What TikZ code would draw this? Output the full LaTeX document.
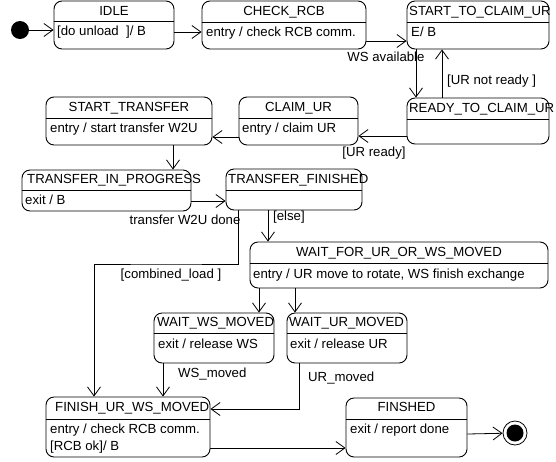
\documentclass[tikz,border=0pt]{standalone}
\usepackage{fontspec}
\setmainfont{Liberation Sans}
\usetikzlibrary{arrows.meta,calc}

\begin{document}
\begin{tikzpicture}[
    x=1pt, y=-1pt,
    state/.style={rectangle, draw, rounded corners=8pt, line width=0.9pt, inner sep=0pt},
    divider/.style={line width=0.9pt},
    title/.style={font=\fontsize{13.2}{15}\selectfont, inner sep=0pt, text height=9.5pt, text depth=2.5pt},
    body/.style={font=\fontsize{13.2}{17}\selectfont, inner sep=0pt, anchor=west, align=left, text height=9.5pt, text depth=2.5pt},
    arrow/.style={-{Straight Barb[length=9pt,width=13pt]}, line width=0.8pt},
    msg/.style={font=\fontsize{13.2}{15}\selectfont, inner sep=1pt}
]
\useasboundingbox (0,0) rectangle (556,461);

% Pseudo states
\node[circle, fill=black, minimum size=18pt, inner sep=0pt] (init) at (20,30) {};
\node[circle, draw, line width=0.8pt, fill=white, minimum size=24pt, inner sep=0pt] (final) at (515,433) {};
\node[circle, fill=black, minimum size=17pt, inner sep=0pt] (final-in) at (final) {};

% States
\node[state, minimum width=120pt, minimum height=48pt] (idle) at (114,25) {};
\node[state, minimum width=164pt, minimum height=48pt] (check) at (284,25) {};
\node[state, minimum width=142pt, minimum height=48pt] (stc) at (478,25) {};
\node[state, minimum width=142pt, minimum height=46pt] (ready) at (478,121) {};
\node[state, minimum width=119pt, minimum height=48pt] (claim) at (298.5,121) {};
\node[state, minimum width=166pt, minimum height=48pt] (sttr) at (129,121) {};
\node[state, minimum width=169pt, minimum height=41pt] (tip) at (106.5,190.5) {};
\node[state, minimum width=136pt, minimum height=41pt] (tf) at (294,189.5) {};
\node[state, minimum width=298pt, minimum height=46pt] (waitfor) at (399,265) {};
\node[state, minimum width=120pt, minimum height=50pt] (waitws) at (214,338) {};
\node[state, minimum width=120pt, minimum height=50pt] (waitur) at (347,338) {};
\node[state, minimum width=164pt, minimum height=60pt] (finish) at (128,427) {};
\node[state, minimum width=121pt, minimum height=59pt] (finshed) at (406.5,427.5) {};

\foreach \s/\d in {idle/21, check/22, stc/22, ready/22, claim/22, sttr/22, tip/21,
                   tf/22, waitfor/22, waitws/21, waitur/21, finish/23, finshed/22}
    \draw[divider] ([yshift=-\d pt]\s.north west) -- ([yshift=-\d pt]\s.north east);

% State names
\node[title] (idle-t) at (114,12) {IDLE};
\node[title] (check-t) at (284,12) {CHECK\_RCB};
\node[title, anchor=west] (stc-t) at (409,12) {START\_TO\_CLAIM\_UR};
\node[title, anchor=west] (ready-t) at (409,109) {READY\_TO\_CLAIM\_UR};
\node[title] (claim-t) at (298.5,108) {CLAIM\_UR};
\node[title] (sttr-t) at (129,108) {START\_TRANSFER};
\node[title, anchor=west] (tip-t) at (27,180) {TRANSFER\_IN\_PROGRESS};
\node[title, anchor=west] (tf-t) at (228,180) {TRANSFER\_FINISHED};
\node[title] (waitfor-t) at (399,253) {WAIT\_FOR\_UR\_OR\_WS\_MOVED};
\node[title, anchor=west] (waitws-t) at (157,323) {WAIT\_WS\_MOVED};
\node[title, anchor=west] (waitur-t) at (289,323) {WAIT\_UR\_MOVED};
\node[title, anchor=west] (finish-t) at (55,408) {FINISH\_UR\_WS\_MOVED};
\node[title] (finshed-t) at (406.5,408) {FINSHED};

% Internal activities
\node[body] (idle-b) at (57,32) {[do unload~~]/ B};
\node[body] (check-b) at (206,33) {entry / check RCB comm.};
\node[body] (stc-b) at (411,33) {E/ B};
\node[body] (claim-b) at (242,129) {entry / claim UR};
\node[body] (sttr-b) at (50,129) {entry / start transfer W2U};
\node[body] (tip-b) at (25,201) {exit / B};
\node[body] (waitfor-b) at (253,275) {entry / UR move to rotate, WS finish exchange};
\node[body] (waitws-b) at (158,345) {exit / release WS};
\node[body] (waitur-b) at (290,345) {exit / release UR};
\node[body, text height=, text depth=] (finish-b) at (50,438.5) {entry / check RCB comm.\\{}[RCB ok]/ B};
\node[body] (finshed-b) at (350,430) {exit / report done};

% Transitions
\draw[arrow] (init) -- (init -| idle.west);
\draw[arrow] ([yshift=-7pt]idle.east) -- ([yshift=-7pt]check.west);
\draw[arrow] ([yshift=-16pt]check.east) -- ([yshift=-16pt]stc.west);
\node[msg] (l-ws) at (386,57) {WS available};
\draw[arrow] ([xshift=-62pt]stc.south) -- ([xshift=-62pt]ready.north);
\draw[arrow] ([xshift=-36pt]ready.north) -- ([xshift=-36pt]stc.south);
\node[msg, anchor=west] (l-notready) at (446,81) {[UR not ready ]};
\draw[arrow] ([yshift=-15pt]ready.west) -- ([yshift=-15pt]claim.east);
\node[msg] (l-ready) at (374,153) {[UR ready]};
\draw[arrow] ([yshift=-16pt]claim.west) -- ([yshift=-16pt]sttr.east);
\draw[arrow] ([xshift=44pt]sttr.south) -- ([xshift=66.5pt]tip.north);
\draw[arrow] ([yshift=-10.5pt]tip.east) -- ([yshift=-11.5pt]tf.west);
\node[msg] (l-done) at (185,220) {transfer W2U done};
\draw[arrow] ([xshift=-26pt]tf.south) -- ([xshift=-131pt]waitfor.north);
\node[msg, anchor=west] (l-else) at (272,217) {[else]};

% combined load branch
\coordinate (c-comb) at (166,264);
\draw[arrow] ([xshift=-56pt]tf.south) |- (c-comb) -| ([xshift=-34pt]finish.north);
\node[msg] (l-comb) at (171,275) {[combined\_load ]};

\draw[arrow] ([xshift=-140pt]waitfor.south) -- ([xshift=45pt]waitws.north);
\draw[arrow] ([xshift=-104pt]waitfor.south) -- ([xshift=-52pt]waitur.north);
\draw[arrow] ([xshift=-51pt]waitws.south) -- ([xshift=35pt]finish.north);
\node[msg, anchor=west] (l-wsm) at (177,374) {WS\_moved};
\draw[arrow] ([xshift=-48pt]waitur.south) |- ([yshift=18pt]finish.east);
\node[msg, anchor=west] (l-urm) at (307,378) {UR\_moved};
\draw[arrow] ([yshift=-21pt]finish.east) -- ([yshift=-20.5pt]finshed.west);
\draw[arrow] ([yshift=-6.5pt]finshed.east) -- (final);

\end{tikzpicture}
\end{document}
